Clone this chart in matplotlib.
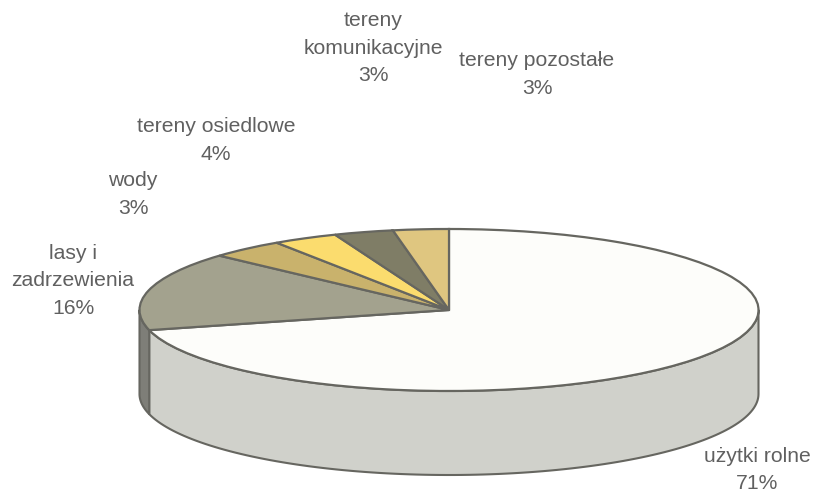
#!/usr/bin/env python3
import numpy as np
import matplotlib
matplotlib.use("Agg")
import matplotlib.pyplot as plt

plt.rcParams["font.family"] = ["Liberation Sans", "DejaVu Sans"]

W, H = 816, 492
CX, CY = 449, 310   # pie centre in pixels
RX, RY = 309.5, 81  # ellipse radii in pixels
DEPTH = 84 / RY     # wall height in data units

categories = ["użytki rolne", "lasy i\nzadrzewienia", "wody", "tereny osiedlowe",
              "tereny\nkomunikacyjne", "tereny pozostałe"]
# printed percentages
percents = [71, 16, 3, 4, 3, 3]
# slice sizes as they are actually drawn in the picture (unrounded)
values = [71.0, 15.7, 3.9, 3.4, 3.1, 2.9]
top_colors = ["#fdfdfa", "#a3a28e", "#c9b26c", "#fbdc6e", "#7f7d66", "#dfc680"]
wall_colors = ["#d0d1cb", "#7e7e78", "#a08d55", "#c8af57", "#65634f", "#b29e66"]
label_xy = [(757, 470), (73, 281), (133, 194.5), (216, 140.5), (373, 48), (537, 74.5)]

EDGE = "#666660"
TEXT = "#606060"

fig = plt.figure(figsize=(W / 100, H / 100), dpi=100)
ax = fig.add_axes([0, 0, 1, 1])

# walls first, the pie goes on top of them
cum = np.cumsum([0] + values) / sum(values) * 360.0
for i, color in enumerate(wall_colors):
    # angles run clockwise from 12 o'clock, only 90..270 faces the viewer
    a0 = max(cum[i], 90.0)
    a1 = min(cum[i + 1], 270.0)
    if a1 <= a0:
        continue
    t = np.radians(np.linspace(a0, a1, 120))
    x, y = np.sin(t), np.cos(t)
    ax.fill(np.r_[x, x[::-1]], np.r_[y, y[::-1] - DEPTH],
            facecolor=color, edgecolor=EDGE, linewidth=1.5, joinstyle="round", zorder=1)

wedges, _ = ax.pie(values, colors=top_colors, startangle=90, counterclock=False,
                   center=(0, 0), radius=1,
                   wedgeprops={"edgecolor": EDGE, "linewidth": 1.6})
for w in wedges:
    w.set_zorder(2)

ax.set_aspect("auto")
ax.set_xlim(-CX / RX, (W - CX) / RX)
ax.set_ylim((CY - H) / RY, CY / RY)
ax.axis("off")

for name, val, (px, py) in zip(categories, percents, label_xy):
    fig.text(px / W, 1 - py / H, f"{name}\n{val}%", ha="center", va="center",
             fontsize=15.2, color=TEXT, linespacing=1.55)

fig.savefig("out.png", dpi=100, facecolor="white")
